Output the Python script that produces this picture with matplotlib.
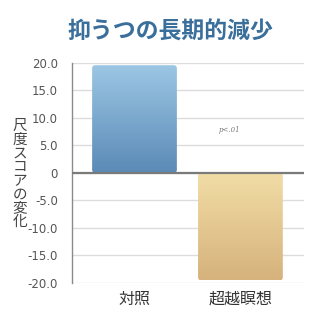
import numpy as np
import matplotlib.pyplot as plt
from matplotlib.patches import FancyBboxPatch
from matplotlib.colors import LinearSegmentedColormap

plt.rcParams['font.family'] = ['Noto Sans CJK JP', 'DejaVu Sans']

categories = ["対照", "超越瞑想"]
values = [19.6, -19.6]
yticks = [20, 15, 10, 5, 0, -5, -10, -15, -20]
ytick_labels = ["20.0", "15.0", "10.0", "5.0", "0", "-5.0", "-10.0", "-15.0", "-20.0"]
# gradient colours (top, bottom) for each bar
bar_colors = [("#9cc6e4", "#5a8ab6"), ("#f2dda6", "#d6b27c")]

fig = plt.figure(figsize=(3.2, 3.2), dpi=100)
ax = fig.add_axes([0.225, 0.117, 0.725, 0.686])

x = np.arange(len(categories))
bars = ax.bar(x, values, width=0.8, color="none", zorder=3)

ax.set_xlim(-0.59, 1.6)
ax.set_ylim(-20, 20)

# rounded gradient bars
aspect = (40 / 219.5) / (2.19 / 232)
grad = np.linspace(0, 1, 256).reshape(-1, 1)
for b, (c_top, c_bot) in zip(bars, bar_colors):
    x0, y0 = b.get_x(), min(b.get_y(), b.get_y() + b.get_height())
    w, h = b.get_width(), abs(b.get_height())
    patch = FancyBboxPatch((x0, y0), w, h,
                           boxstyle="round,pad=0,rounding_size=0.03",
                           mutation_aspect=aspect, fc="none", ec="none",
                           transform=ax.transData)
    ax.add_patch(patch)
    cmap = LinearSegmentedColormap.from_list("g", [c_top, c_bot])
    im = ax.imshow(grad, cmap=cmap, aspect="auto", origin="upper",
                   extent=(x0, x0 + w, y0, y0 + h), zorder=3)
    im.set_clip_path(patch)

ax.set_xlim(-0.59, 1.6)
ax.set_ylim(-20, 20)

ax.set_yticks(yticks)
ax.set_yticklabels(ytick_labels, fontfamily="DejaVu Sans", fontsize=8.5, color="#555555")
ax.set_xticks(x)
ax.set_xticklabels(categories, fontsize=11.5, color="#333333")
ax.tick_params(axis="y", length=0, pad=10)
ax.tick_params(axis="x", length=0, pad=6)

ax.grid(axis="y", color="#dcdcdc", linewidth=1, zorder=0)
ax.axhline(0, color="#7a7a7a", linewidth=1.6, zorder=4)
for s in ["top", "right", "bottom"]:
    ax.spines[s].set_visible(False)
ax.spines["left"].set_color("#8a8a8a")
ax.spines["left"].set_linewidth(1)

ax.text(0.9, 7.8, "p<.01", fontsize=5, fontstyle="italic", family="DejaVu Serif",
        color="#777777", ha="center", va="center")

fig.text(20 / 320, 1 - 174 / 320, "\n".join("尺度スコアの変化"), fontsize=10.5,
         color="#444444", ha="center", va="center", linespacing=0.97)

fig.text(170 / 320, 1 - 32 / 320, "抑うつの長期的減少", fontsize=16.5, fontweight="bold",
         color="#3a6f9c", ha="center", va="center")

fig.savefig("out.png", dpi=100)
